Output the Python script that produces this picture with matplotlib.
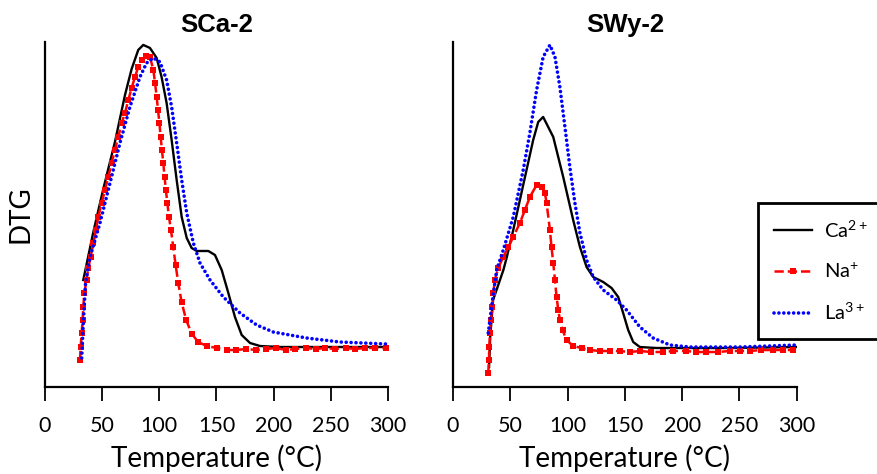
import numpy as np
import matplotlib
matplotlib.use('Agg')
import matplotlib.pyplot as plt

plt.rcParams['font.family'] = ['Lato', 'DejaVu Sans']
plt.rcParams['mathtext.fontset'] = 'custom'
plt.rcParams['mathtext.rm'] = 'Lato'
plt.rcParams['mathtext.default'] = 'rm'

# ---- data (arbitrary DTG units) ----
titles = ['SCa-2', 'SWy-2']
labels = ['Ca$^{2+}$', 'Na$^{+}$', 'La$^{3+}$']
xticks = [0, 50, 100, 150, 200, 250, 300]

# SCa-2
sca_ca_t = [33.5, 42.3, 51, 61.2, 70, 75.8, 81.6, 86, 91.8, 97.7, 102, 106.4, 110.8, 115.2,
            119.6, 124, 128.3, 132.7, 142.9, 148.7, 154.6, 160.4, 166.2, 172.1, 179.4, 188.1,
            205.6, 250, 300]
sca_ca_v = [107, 155, 198, 245, 292, 318, 337, 342, 339, 329, 310, 284, 247, 207,
            170, 149, 139, 136, 136, 132, 117, 94, 70, 52, 44, 41,
            40, 40, 40]

sca_na_t = [30.6, 31.2, 32.1, 32.9, 33.5, 34.4, 36.4, 37.9, 39.9, 42.3, 44.6, 46.6, 49.6,
            52.5, 55.4, 58.3, 61.2, 64.1, 67.1, 70, 72.9, 75.8, 78.7, 81.6, 84.6, 88.3,
            91.8, 94.8, 96.3, 97.7, 98.9, 100.1, 101.2, 102.3, 103.5, 104.6, 105.8,
            107.0, 108.5, 110.2, 112.2, 114.3, 116.6, 119.5, 123.5, 128.5, 134.1, 141.4,
            150.2, 158.9, 167, 176, 185, 193, 202, 211, 219, 228, 237, 245, 254, 263,
            271, 280, 289, 298]
sca_na_v = [27, 40, 54, 67, 80, 94, 107, 119, 130, 144, 157, 170, 184,
            197, 210, 224, 237, 250, 264, 274, 287, 299, 310, 320, 327, 331,
            330, 317, 304, 290, 277, 264, 250, 237, 224, 210, 197,
            184, 170, 157, 140, 122, 104, 85, 67, 53, 45, 41,
            39, 37, 37, 38, 37, 38, 39, 37, 38, 39, 38, 39, 38, 39,
            38, 39, 39, 39]

sca_la_t = [32.1, 33.5, 35.5, 39.4, 48.1, 56.9, 65.6, 74.3, 83.1, 88.9, 94.8, 100.6, 106.4,
            110.8, 115.2, 119.6, 124, 129.8, 135.6, 144.4, 156, 170.6, 185.2, 199.7,
            228.9, 258, 298.8]
sca_la_v = [29, 64, 104, 130, 164, 204, 244, 280, 310, 324, 329, 325, 307,
            280, 244, 207, 174, 144, 124, 107, 90, 74, 62, 55,
            49, 45, 43]

# SWy-2
swy_ca_t = [31.5, 32.5, 35, 44, 47, 52.6, 58.4, 64.2, 70, 74.4, 78.7, 87.5, 96.2, 104.9,
            110.8, 116.6, 122.4, 131.1, 138.4, 144.2, 148.5, 152.9, 157.3, 163.1, 177.6,
            240, 299.7]
swy_ca_v = [20, 50, 87, 117, 130, 157, 187, 217, 247, 265, 270, 250, 210, 167,
            140, 120, 110, 105, 99, 90, 74, 57, 45, 40, 39,
            39, 40]

swy_na_t = [30.8, 31.4, 31.7, 32.3, 33.1, 34.3, 35.2, 36.6, 39.5, 43.9, 48.3, 52.6, 58.4,
            62.8, 67.1, 73, 77.3, 80.2, 81.7, 84.6, 86, 87.5, 89, 90.4, 91.9, 93.3,
            95.6, 99.1, 104.9, 112.2, 119.5, 128.2, 137, 145.6, 154.3, 163, 173.2, 183.4,
            192.1, 203.7, 212.4, 221.1, 231.3, 241.4, 250.1, 258.8, 269, 279.2, 287.9,
            296.6]
swy_na_v = [14, 27, 40, 54, 67, 80, 94, 107, 119, 130, 140, 150, 164,
            177, 190, 202, 200, 194, 184, 157, 140, 124, 107, 90, 77, 67,
            57, 47, 41, 39, 37, 36, 36, 36, 35, 36, 35, 35,
            36, 36, 35, 35, 35, 36, 36, 36, 37, 37, 37,
            37]

swy_la_t = [30.8, 33.7, 38.1, 43.9, 52.6, 61.3, 67.1, 73, 78.7, 84.6, 89, 93.3, 97.7, 102,
            106.4, 110.8, 116.6, 122.4, 131.1, 142.8, 151.5, 163.1, 174.7, 189.3, 206.7,
            250.3, 299.7]
swy_la_v = [54, 80, 117, 137, 170, 217, 254, 297, 330, 342, 330, 300, 260, 220,
            184, 154, 127, 110, 97, 87, 77, 60, 49, 42, 40,
            40, 42]

series = [
    [(sca_ca_t, sca_ca_v), (sca_na_t, sca_na_v), (sca_la_t, sca_la_v)],
    [(swy_ca_t, swy_ca_v), (swy_na_t, swy_na_v), (swy_la_t, swy_la_v)],
]

fig = plt.figure(figsize=(8.77, 4.74), dpi=100)
ax1 = fig.add_axes([0.0513, 0.1835, 0.391, 0.728])
ax2 = fig.add_axes([0.5165, 0.1835, 0.392, 0.728])

handles = []
for ax, title, data in zip([ax1, ax2], titles, series):
    (ct, cv), (nt, nv), (lt, lv) = data
    h1, = ax.plot(ct, cv, color='black', lw=1.7, solid_joinstyle='round')
    h2, = ax.plot(nt, nv, color='red', lw=1.8, ls='--', marker='s', ms=5,
                  markeredgewidth=0)
    h3, = ax.plot(lt, lv, color='blue', lw=2.6, ls=(0, (0.01, 1.35)),
                  dash_capstyle='round')
    handles = [h1, h2, h3]

    ax.set_xlim(0, 300)
    ax.set_ylim(0, 345)
    ax.set_xticks(xticks)
    ax.set_yticks([])
    ax.spines['top'].set_visible(False)
    ax.spines['right'].set_visible(False)
    for s in ['left', 'bottom']:
        ax.spines[s].set_linewidth(1.6)
    ax.tick_params(axis='x', direction='out', length=10, width=1.3,
                   labelsize=15.5, pad=11)
    ax.set_xlabel('Temperature (°C)', fontsize=20, labelpad=6)
    ax.set_title(title, fontsize=18.5, fontweight='bold',
                 family=['Liberation Sans', 'DejaVu Sans'], pad=7)

ax1.set_ylabel('DTG', fontsize=20, labelpad=8)

leg = fig.legend(handles, labels, loc='lower left',
                 bbox_to_anchor=(0.864, 0.284), bbox_transform=fig.transFigure,
                 fontsize=14.5, frameon=True, fancybox=False, framealpha=1,
                 edgecolor='black', borderpad=0.8, labelspacing=1.05,
                 handlelength=1.9, handletextpad=0.6, borderaxespad=0)
leg.get_frame().set_linewidth(2)

fig.savefig('out.png', dpi=100)
